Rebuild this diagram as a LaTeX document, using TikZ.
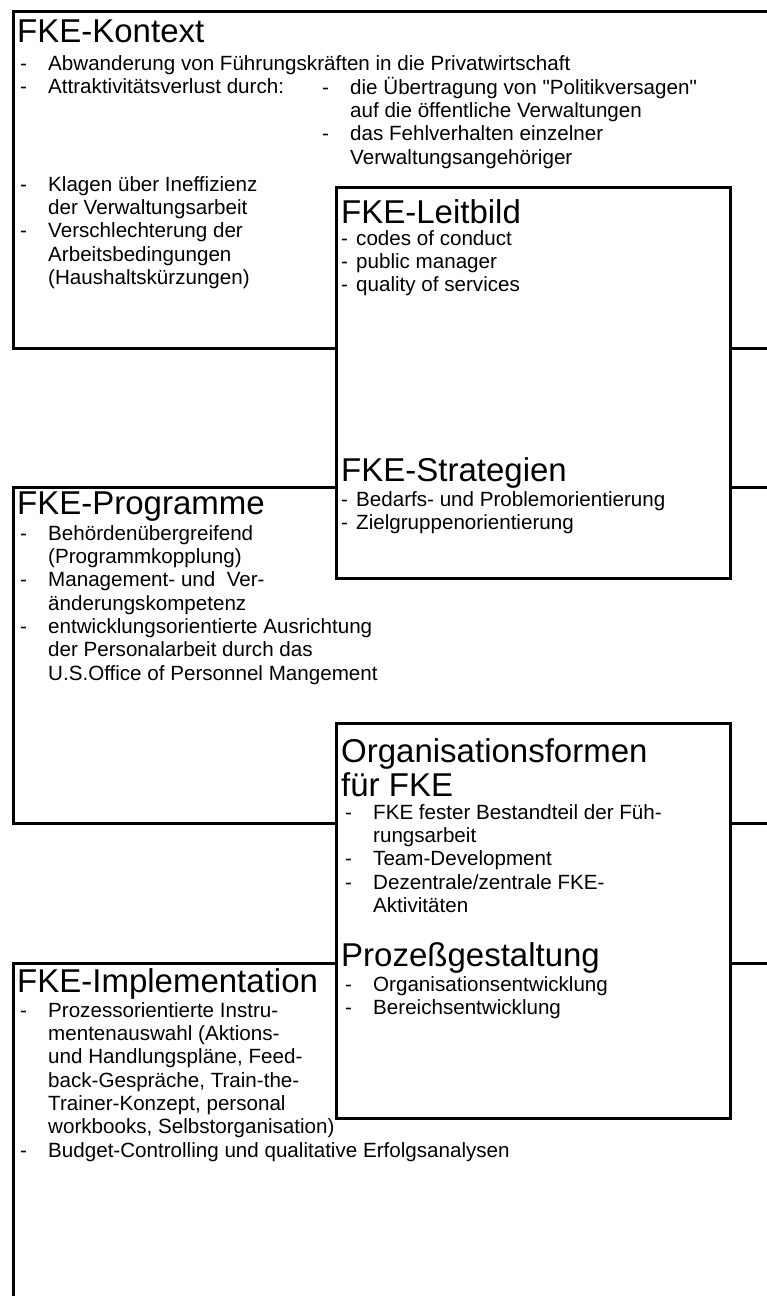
\documentclass[tikz,border=0pt]{standalone}
\usepackage{fontspec}
\setmainfont{Liberation Sans}[Ligatures=TeXOff]
\newcommand{\hdfont}{\fontsize{33}{34}\selectfont}
\newcommand{\bdfont}{\fontsize{20.6}{23.3}\selectfont}
\tikzset{
  bigbox/.style={draw, line width=2.5pt, anchor=north west, inner sep=0pt},
  innerbox/.style={draw, fill=white, line width=2.5pt, anchor=north west, inner sep=0pt},
  head/.style={anchor=base west, inner sep=0pt, font=\hdfont},
  txt/.style={anchor=north west, inner sep=0pt, font=\bdfont},
}
\begin{document}
\begin{tikzpicture}[x=1pt,y=-1pt]
\useasboundingbox (0,0) rectangle (767,1296);
\clip (0,0) rectangle (767,1296);
% big boxes (extend beyond right/bottom edges)
\node[bigbox, minimum width=800pt, minimum height=337pt] (ctx) at (12,10) {};
\node[bigbox, minimum width=800pt, minimum height=336pt] (prog) at (12,486) {};
\node[bigbox, minimum width=800pt, minimum height=400pt] (impl) at (12,962) {};
% inner boxes
\node[innerbox, minimum width=394pt, minimum height=391pt] (leit) at (335,186) {};
\node[innerbox, minimum width=394pt, minimum height=395pt] (org) at (335,722) {};

% FKE-Kontext
\node[head] (hctx) at (17,42) {FKE-Kontext};
\node[txt] (ctxA) at (20,53.7) {\begin{tabular}{@{}p{28pt}@{}l@{}}
- & Abwanderung von Führungskräften in die Privatwirtschaft\\
- & Attraktivitätsverlust durch:
\end{tabular}};
\node[txt] (ctxB) at (322,76.7) {\begin{tabular}{@{}p{28pt}@{}l@{}}
- & die Übertragung von "Politikversagen"\\
  & auf die öffentliche Verwaltungen\\
- & das Fehlverhalten einzelner\\
  & Verwaltungsangehöriger
\end{tabular}};
\node[txt] (ctxC) at (20,174.7) {\begin{tabular}{@{}p{28pt}@{}l@{}}
- & Klagen über Ineffizienz\\
  & der Verwaltungsarbeit\\
- & Verschlechterung der\\
  & Arbeitsbedingungen\\
  & (Haushaltskürzungen)
\end{tabular}};

% FKE-Leitbild
\node[head] (hleit) at (341,223) {FKE-Leitbild};
\node[txt] (leitA) at (341,228.7) {\begin{tabular}{@{}p{15pt}@{}l@{}}
- & codes of conduct\\
- & public manager\\
- & quality of services
\end{tabular}};

% FKE-Strategien
\node[head] (hstr) at (341,481) {FKE-Strategien};
\node[txt] (strA) at (341,489.7) {\begin{tabular}{@{}p{15pt}@{}l@{}}
- & Bedarfs- und Problemorientierung\\
- & Zielgruppenorientierung
\end{tabular}};

% FKE-Programme
\node[head] (hprog) at (17,514) {FKE-Programme};
\node[txt] (progA) at (20,523.7) {\begin{tabular}{@{}p{28pt}@{}l@{}}
- & Behördenübergreifend\\
  & (Programmkopplung)\\
- & Management- und\ \ Ver-\\
  & änderungskompetenz\\
- & entwicklungsorientierte Ausrichtung\\
  & der Personalarbeit durch das\\
  & U.S.Office of Personnel Mangement
\end{tabular}};

% Organisationsformen
\node[head] (horg1) at (341,762) {Organisationsformen};
\node[head] (horg2) at (341,796) {für FKE};
\node[txt] (orgA) at (345,802.7) {\begin{tabular}{@{}p{28pt}@{}l@{}}
- & FKE fester Bestandteil der Füh-\\
  & rungsarbeit\\
- & Team-Development\\
- & Dezentrale/zentrale FKE-\\
  & Aktivitäten
\end{tabular}};

% Prozessgestaltung
\node[head] (hproz) at (341,966) {Prozeßgestaltung};
\node[txt] (prozA) at (345,974.7) {\begin{tabular}{@{}p{28pt}@{}l@{}}
- & Organisationsentwicklung\\
- & Bereichsentwicklung
\end{tabular}};

% FKE-Implementation
\node[head] (himpl) at (17,992) {FKE-Implementation};
\node[txt] (implA) at (20,1000.7) {\begin{tabular}{@{}p{28pt}@{}l@{}}
- & Prozessorientierte Instru-\\
  & mentenauswahl (Aktions-\\
  & und Handlungspläne, Feed-\\
  & back-Gespräche, Train-the-\\
  & Trainer-Konzept, personal\\
  & workbooks, Selbstorganisation)\\
- & Budget-Controlling und qualitative Erfolgsanalysen
\end{tabular}};
\end{tikzpicture}
\end{document}
